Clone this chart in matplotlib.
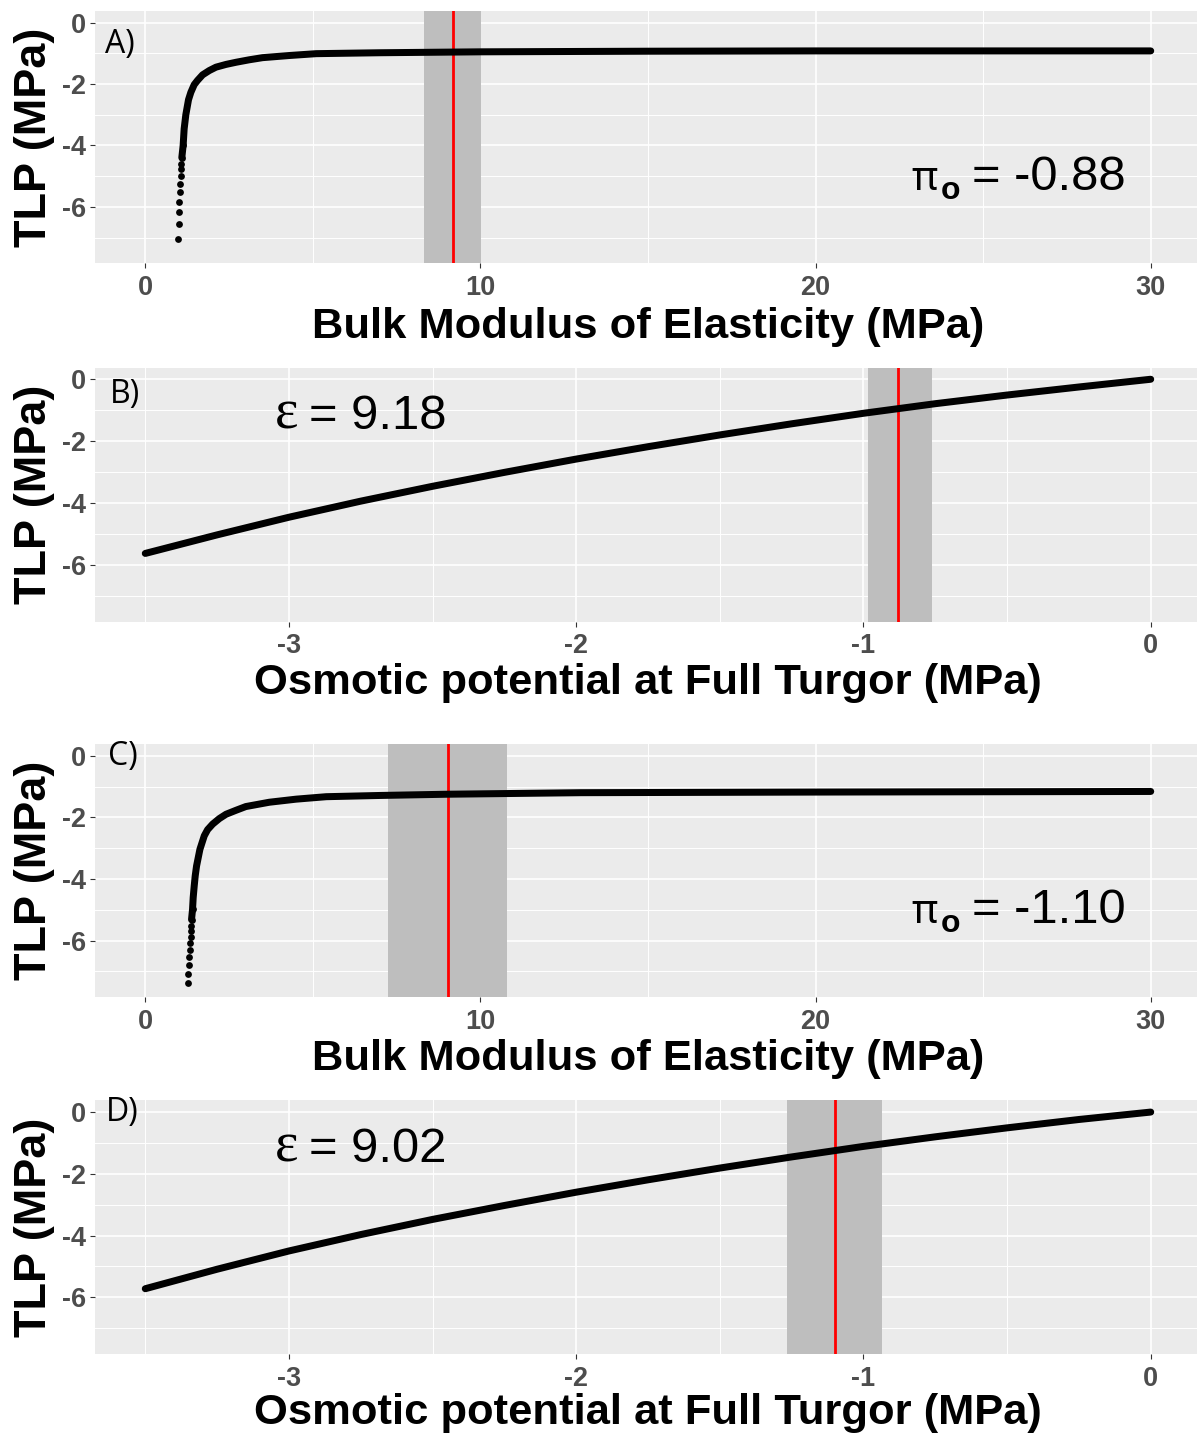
import matplotlib
matplotlib.use("Agg")
import matplotlib.pyplot as plt
from matplotlib.ticker import MultipleLocator

plt.rcParams["axes.unicode_minus"] = False

# ---------------- data ----------------
# Panel A: TLP vs bulk modulus (pi_o = -0.88)
a_eps = [0.985, 0.995, 1.01, 1.02, 1.035, 1.05, 1.06, 1.07, 1.08, 1.09,
         1.13, 1.16, 1.21, 1.29, 1.36, 1.46, 1.56, 1.71, 1.91, 2.11, 2.41,
         2.71, 3.1, 3.5, 4.3, 5.1, 7.0, 10.0, 15.0, 20.0, 25.0, 30.0]
a_tlp = [-7.06, -6.56, -6.17, -5.84, -5.51, -5.25, -5.00, -4.78, -4.60, -4.40,
         -4.00, -3.46, -3.00, -2.51, -2.27, -2.02, -1.88, -1.70, -1.56, -1.45, -1.36,
         -1.29, -1.21, -1.14, -1.07, -1.01, -0.98, -0.95, -0.93, -0.92, -0.92, -0.92]
a_mean, a_lo, a_hi = 9.18, 8.33, 10.03

# Panel B: TLP vs osmotic potential (eps = 9.18)
b_pi = [-3.5, -3.25, -3.0, -2.75, -2.5, -2.25, -2.0, -1.75, -1.5, -1.25,
        -1.0, -0.75, -0.5, -0.25, 0.0]
b_tlp = [-5.63, -5.03, -4.46, -3.94, -3.46, -3.01, -2.58, -2.18, -1.80, -1.44,
         -1.10, -0.79, -0.51, -0.25, 0.0]
b_mean, b_lo, b_hi = -0.88, -0.985, -0.76

# Panel C: TLP vs bulk modulus (pi_o = -1.10)
c_eps = [1.28, 1.285, 1.30, 1.31, 1.33, 1.34, 1.35, 1.36, 1.375, 1.38,
         1.41, 1.43, 1.46, 1.49, 1.53, 1.63, 1.76, 1.86, 2.01, 2.21, 2.41,
         2.71, 3.0, 3.35, 3.7, 4.1, 4.5, 5.4, 7.0, 9.0, 13.0, 20.0, 25.0, 30.0]
c_tlp = [-7.36, -7.07, -6.78, -6.53, -6.29, -6.07, -5.88, -5.69, -5.51, -5.32,
         -4.99, -4.60, -4.23, -3.90, -3.58, -3.04, -2.60, -2.40, -2.22, -2.04, -1.90,
         -1.77, -1.65, -1.58, -1.51, -1.46, -1.41, -1.33, -1.29, -1.25, -1.20,
         -1.18, -1.17, -1.16]
c_mean, c_lo, c_hi = 9.02, 7.25, 10.78

# Panel D: TLP vs osmotic potential (eps = 9.02)
d_pi = [-3.5, -3.25, -3.0, -2.75, -2.5, -2.25, -2.0, -1.75, -1.5, -1.25,
        -1.0, -0.75, -0.5, -0.25, 0.0]
d_tlp = [-5.72, -5.09, -4.50, -3.97, -3.48, -3.03, -2.60, -2.20, -1.82, -1.46,
         -1.12, -0.81, -0.52, -0.25, -0.01]
d_mean, d_lo, d_hi = -1.10, -1.267, -0.936

eps_ticks = [0, 10, 20, 30]
pi_ticks = [-3, -2, -1, 0]
tlp_ticks = [0, -2, -4, -6]
panel_tags = ["A)", "B)", "C)", "D)"]
xlab_eps = "Bulk Modulus of Elasticity (MPa)"
xlab_pi = "Osmotic potential at Full Turgor (MPa)"
ylab = "TLP (MPa)"
ann_pi = ["= -0.88", "= -1.10"]
ann_eps = ["= 9.18", "= 9.02"]

# ---------------- layout ----------------
W, H = 1197, 1436
fig = plt.figure(figsize=(W / 100, H / 100), dpi=100)
fig.patch.set_facecolor("white")

def rect(l, t, r, b):
    return [l / W, 1 - b / H, (r - l) / W, (b - t) / H]

def fx(x):
    return x / W

def fy(y):
    return 1 - y / H

PT = 0.72  # px -> pt at dpi 100
SANS = "Liberation Sans"

panels = [
    dict(box=(95, 11, 1201, 263), x=a_eps, y=a_tlp, ndots=11, kind="eps",
         band=(a_lo, a_hi), mean=a_mean, xlab_base=338),
    dict(box=(95, 367.5, 1201, 621.5), x=b_pi, y=b_tlp, ndots=0, kind="pi",
         band=(b_lo, b_hi), mean=b_mean, xlab_base=694),
    dict(box=(95, 744, 1201, 997), x=c_eps, y=c_tlp, ndots=11, kind="eps",
         band=(c_lo, c_hi), mean=c_mean, xlab_base=1070),
    dict(box=(95, 1100, 1201, 1354), x=d_pi, y=d_tlp, ndots=0, kind="pi",
         band=(d_lo, d_hi), mean=d_mean, xlab_base=1424),
]

for i, p in enumerate(panels):
    l, t, r, b = p["box"]
    ax = fig.add_axes(rect(l, t, r, b))
    ax.set_facecolor("#EBEBEB")
    for s in ax.spines.values():
        s.set_visible(False)
    if p["kind"] == "eps":
        ax.set_xlim(-1.5, 31.5)
        ax.set_xticks(eps_ticks)
        ax.xaxis.set_minor_locator(MultipleLocator(5))
        ax.set_xlabel(xlab_eps)
    else:
        ax.set_xlim(-3.675, 0.175)
        ax.set_xticks(pi_ticks)
        ax.xaxis.set_minor_locator(MultipleLocator(0.5))
        ax.set_xlabel(xlab_pi)
    ax.set_ylim(-7.83, 0.38)
    ax.set_yticks(tlp_ticks)
    ax.yaxis.set_minor_locator(MultipleLocator(1))
    ax.grid(which="major", color="white", linewidth=1.2)
    ax.grid(which="minor", color="white", linewidth=0.7)
    ax.set_axisbelow(True)
    ax.tick_params(which="minor", length=0)
    ax.tick_params(which="major", length=3.6, width=0.8, color="#333333",
                   labelcolor="#4D4D4D", labelsize=27 * PT)
    ax.tick_params(axis="x", pad=5)
    ax.tick_params(axis="y", pad=3)
    for lab in ax.get_xticklabels() + ax.get_yticklabels():
        lab.set_fontfamily(SANS)
        lab.set_fontweight("bold")

    # band and mean line
    ax.axvspan(p["band"][0], p["band"][1], color="#BEBEBE", zorder=1, lw=0)
    ax.axvline(p["mean"], color="#FF0000", lw=2.0, zorder=2)

    # curve
    xs, ys = p["x"], p["y"]
    nd = p["ndots"]
    ax.plot(xs[max(nd - 2, 0):], ys[max(nd - 2, 0):], color="black", lw=7 * PT,
            solid_capstyle="round", solid_joinstyle="round", zorder=3)
    if nd:
        ax.scatter(xs[:nd], ys[:nd], s=(6.8 * PT) ** 2, color="black",
                   linewidths=0, zorder=3)

    # axis labels
    ax.xaxis.label.set_fontfamily(SANS)
    ax.xaxis.label.set_fontweight("bold")
    ax.xaxis.label.set_fontsize(43.5 * PT)
    ax.xaxis.label.set_va("baseline")
    ax.xaxis.set_label_coords(0.5, (b - p["xlab_base"]) / (b - t))

    ax.set_ylabel(ylab, fontfamily=SANS, fontweight="bold", fontsize=45 * PT)
    ax.yaxis.label.set_va("baseline")
    ax.yaxis.set_label_coords((46 - l) / (r - l), 0.5)

# panel tags
tag_pos = [(105, 53), (110, 403), (108, 765), (106, 1121)]
for tag, (x, y) in zip(panel_tags, tag_pos):
    fig.text(fx(x), fy(y), tag, fontfamily="Open Sans", fontsize=32 * PT,
             ha="left", va="baseline", color="black")

# pi_o annotations (panels A and C)
for txt, base in zip(ann_pi, [190, 923]):
    fig.text(fx(911), fy(base), "\u03c0", fontfamily="Noto Sans",
             fontsize=40 * PT, ha="left", va="baseline")
    fig.text(fx(941), fy(base + 9), "o", fontfamily=SANS, fontweight="bold",
             fontsize=32 * PT, ha="left", va="baseline")
    fig.text(fx(972), fy(base), txt, fontfamily=SANS, fontsize=49 * PT,
             ha="left", va="baseline")

# epsilon annotations (panels B and D)
for txt, base in zip(ann_eps, [429, 1161.5]):
    fig.text(fx(275), fy(base), "\u03b5", fontfamily="Liberation Serif",
             fontsize=56 * PT, ha="left", va="baseline")
    fig.text(fx(309), fy(base), txt, fontfamily=SANS, fontsize=49 * PT,
             ha="left", va="baseline")

fig.savefig("out.png", dpi=100)
